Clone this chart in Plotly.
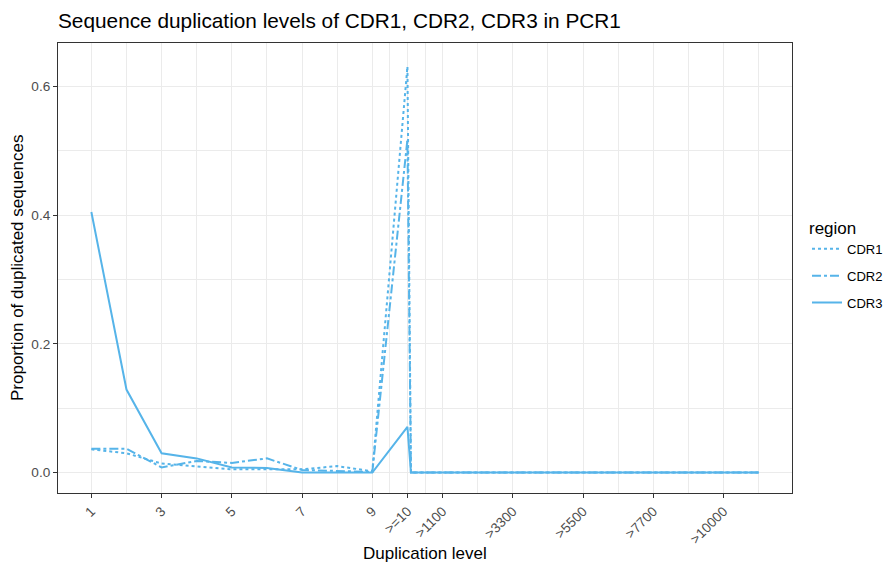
import plotly.graph_objects as go

# Data
dup_level = [1, 2, 3, 4, 5, 6, 7, 8, 9, 10, 10.1, 11, 12, 13, 14, 15, 16, 17, 18, 19, 20]
cdr1 = [0.036, 0.030, 0.014, 0.010, 0.005, 0.005, 0.005, 0.010, 0.002, 0.631,
        0, 0, 0, 0, 0, 0, 0, 0, 0, 0, 0]
cdr2 = [0.037, 0.037, 0.008, 0.018, 0.015, 0.022, 0.004, 0.003, 0.001, 0.518,
        0, 0, 0, 0, 0, 0, 0, 0, 0, 0, 0]
cdr3 = [0.405, 0.129, 0.030, 0.022, 0.008, 0.007, 0.000, 0.000, 0.000, 0.071,
        0, 0, 0, 0, 0, 0, 0, 0, 0, 0, 0]
regions = ["CDR1", "CDR2", "CDR3"]
dashes = ["dot", "dashdot", "solid"]

x_tickvals = [1, 3, 5, 7, 9, 10, 11, 13, 15, 17, 19]
x_ticktext = ["1", "3", "5", "7", "9", ">=10", ">1100", ">3300", ">5500", ">7700", ">10000"]
x_minor = [2, 4, 6, 8, 9.5, 10.5, 12, 14, 16, 18, 20]
y_tickvals = [0.0, 0.2, 0.4, 0.6]
y_ticktext = ["0.0", "0.2", "0.4", "0.6"]
y_minor = [0.1, 0.3, 0.5]

color = "#56B4E9"
font = "Liberation Sans, Arial, sans-serif"

W, H = 886, 555
ML, MR, MT, MB = 50, 102, 35, 70

fig = go.Figure()
for name, ys, d in zip(regions, [cdr1, cdr2, cdr3], dashes):
    fig.add_trace(go.Scatter(x=dup_level, y=ys, mode="lines", name=name, legendgroup=name,
                             line=dict(color=color, width=2, dash=d)))

fig.update_layout(
    width=W, height=H,
    margin=dict(l=ML, r=MR, t=MT, b=MB, autoexpand=False),
    plot_bgcolor="white", paper_bgcolor="white",
    font=dict(family=font, color="#000000"),
    title=dict(text="Sequence duplication levels of CDR1, CDR2, CDR3 in PCR1",
               x=ML / W, xanchor="left", y=1 - 13 / H, yanchor="middle",
               font=dict(size=20.8, family=font, color="#000000")),
    legend=dict(title=dict(text="region", font=dict(size=17)),
                font=dict(size=13), xref="container", x=799 / W, xanchor="left",
                y=0.625, yanchor="top",
                tracegroupgap=7, itemwidth=30),
    showlegend=True,
    annotations=[
        dict(text="Duplication level", xref="paper", yref="paper",
             x=0.5, y=-(545 - (H - MB)) / (H - MT - MB), xanchor="center", yanchor="middle",
             showarrow=False, font=dict(size=17, family=font, color="#000000")),
        dict(text="Proportion of duplicated sequences", xref="paper", yref="paper",
             x=-(ML - 9) / (W - ML - MR), y=0.5, xanchor="center", yanchor="middle",
             textangle=-90, showarrow=False, font=dict(size=17, family=font, color="#000000")),
    ],
)
fig.update_xaxes(
    range=[0.05, 20.95], tickmode="array", tickvals=x_tickvals, ticktext=x_ticktext,
    tickangle=-45, tickfont=dict(size=13.6, color="#4D4D4D"),
    ticks="outside", ticklen=4, tickcolor="#333333",
    showgrid=True, gridcolor="#EBEBEB", gridwidth=1.1,
    minor=dict(tickmode="array", tickvals=x_minor, showgrid=True, gridcolor="#EBEBEB", gridwidth=0.6, ticks=""),
    showline=True, linecolor="#333333", linewidth=1, mirror=True, zeroline=False,
    automargin=False,
)
fig.update_yaxes(
    range=[-0.0318, 0.6677], tickmode="array", tickvals=y_tickvals, ticktext=y_ticktext,
    tickfont=dict(size=13.6, color="#4D4D4D"),
    ticks="outside", ticklen=4, tickcolor="#333333",
    showgrid=True, gridcolor="#EBEBEB", gridwidth=1.1,
    minor=dict(tickmode="array", tickvals=y_minor, showgrid=True, gridcolor="#EBEBEB", gridwidth=0.6, ticks=""),
    showline=True, linecolor="#333333", linewidth=1, mirror=True, zeroline=False,
    automargin=False,
)

fig.write_html("out.html")
